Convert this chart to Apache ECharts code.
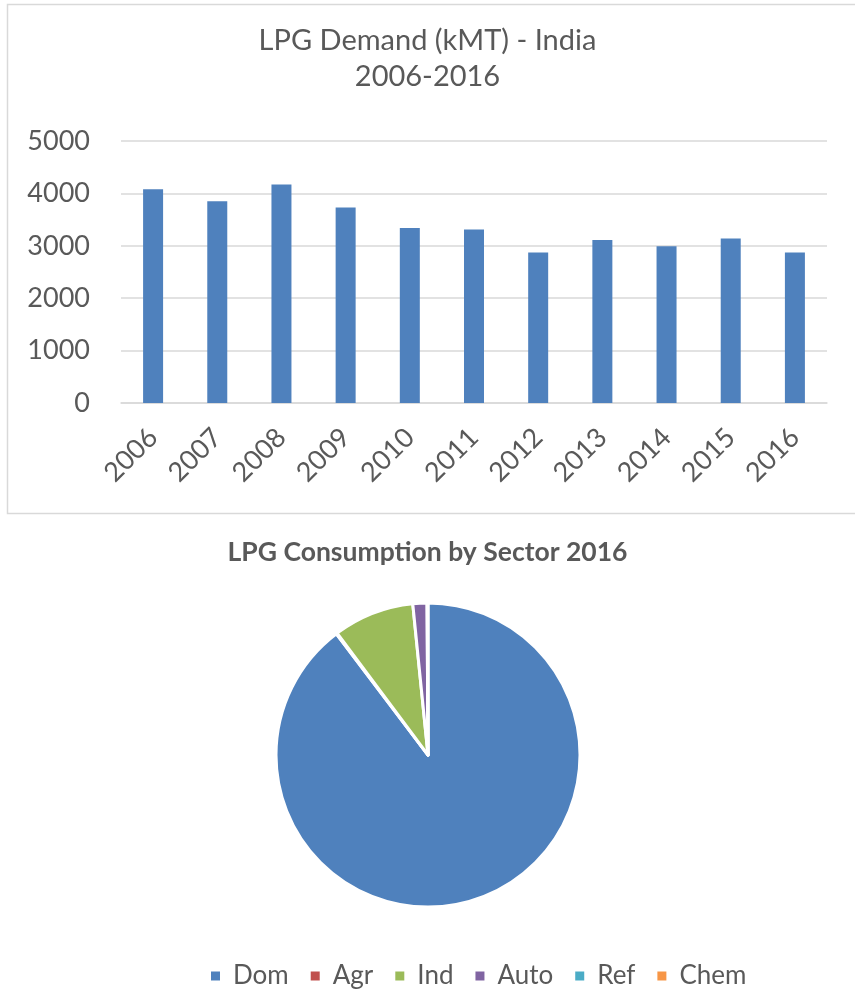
<!DOCTYPE html>
<html>
<head>
<meta charset="utf-8">
<title>LPG Demand India</title>
<script src="https://cdn.jsdelivr.net/npm/echarts@6/dist/echarts.min.js"></script>
<style>
  html, body { margin: 0; padding: 0; background: #fff; }
  #chart { width: 855px; height: 999px; }
</style>
</head>
<body>
<div id="chart"></div>
<script>
// bar chart data (kMT)
var years = ['2006', '2007', '2008', '2009', '2010', '2011', '2012', '2013', '2014', '2015', '2016'];
var demand = [4080, 3850, 4170, 3730, 3340, 3310, 2870, 3110, 2990, 3140, 2870];
var yTicks = [0, 1000, 2000, 3000, 4000, 5000];

// pie chart data (share, %)
var sectors = ['Dom', 'Agr', 'Ind', 'Auto', 'Ref', 'Chem'];
var sectorShare = [89.7, 0.1, 8.6, 1.5, 0.05, 0.05];
var sectorColors = ['#4F81BD', '#C0504D', '#9BBB59', '#8064A2', '#4BACC6', '#F79646'];

var txt = '#595959';
var fnt = 'Lato, "Open Sans", sans-serif';

var chart = echarts.init(document.getElementById('chart'));

var option = {
    animation: false,
    textStyle: { fontFamily: fnt },
    graphic: [{
        type: 'rect',
        shape: { x: 7.5, y: 4.5, width: 870, height: 509 },
        style: { fill: 'none', stroke: '#d9d9d9', lineWidth: 1.5 },
        silent: true
    }],
    title: [{
        text: 'LPG Demand (kMT) - India',
        left: 'center', top: 26, padding: 0,
        textStyle: { fontFamily: fnt, fontSize: 29, fontWeight: 'normal', color: txt }
    }, {
        text: '2006-2016',
        left: 'center', top: 62, padding: 0,
        textStyle: { fontFamily: fnt, fontSize: 29, fontWeight: 'normal', color: txt }
    }, {
        text: 'LPG Consumption by Sector 2016',
        left: 'center', top: 539, padding: 0,
        textStyle: { fontFamily: fnt, fontSize: 26.5, fontWeight: 'bold', color: txt }
    }],
    legend: {
        data: sectors,
        left: 204, top: 958,
        icon: 'rect',
        itemWidth: 11, itemHeight: 11,
        itemGap: 20,
        textStyle: { fontFamily: fnt, fontSize: 26, color: txt, padding: [0, 0, 0, 7] }
    },
    grid: { left: 121, right: 28, top: 141, bottom: 596 },
    xAxis: {
        type: 'category',
        data: years,
        axisLine: { lineStyle: { color: '#d9d9d9', width: 1.5 } },
        axisTick: { show: false },
        axisLabel: { interval: 0, rotate: 45, margin: 30, fontSize: 27, color: txt, fontFamily: fnt }
    },
    yAxis: {
        type: 'value',
        min: yTicks[0],
        max: yTicks[yTicks.length - 1],
        interval: 1000,
        axisLine: { show: false },
        axisTick: { show: false },
        splitLine: { lineStyle: { color: '#d9d9d9', width: 1.5 } },
        axisLabel: {
            margin: 31, fontSize: 27, color: txt, fontFamily: fnt,
            formatter: function (v) { return String(v); }
        }
    },
    series: [{
        type: 'bar',
        data: demand,
        barWidth: 20,
        itemStyle: { color: '#4F81BD' }
    }, {
        type: 'pie',
        center: [428, 755],
        radius: 152,
        startAngle: 90,
        clockwise: true,
        label: { show: false },
        labelLine: { show: false },
        emphasis: { disabled: true },
        itemStyle: { borderColor: '#fff', borderWidth: 3 },
        data: sectors.map(function (s, i) {
            return { name: s, value: sectorShare[i], itemStyle: { color: sectorColors[i] } };
        })
    }]
};

chart.setOption(option);
window.addEventListener('resize', function () {
    chart.resize();
});
</script>
</body>
</html>
